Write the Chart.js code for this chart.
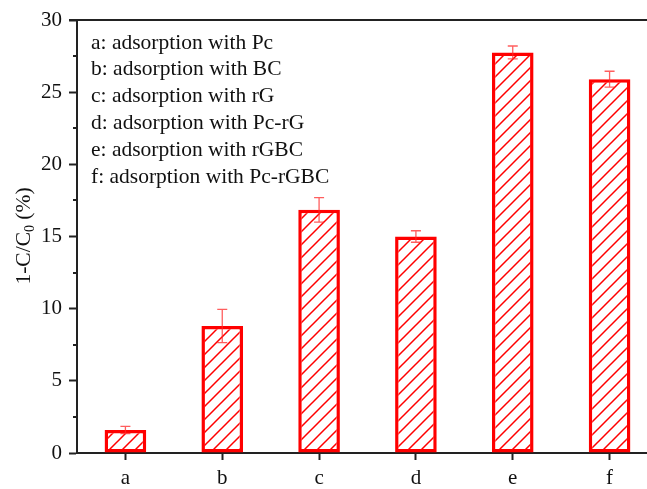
<!DOCTYPE html>
<html>
<head>
<meta charset="utf-8">
<script src="https://cdn.jsdelivr.net/npm/chart.js@4.4.0/dist/chart.umd.min.js"></script>
<style>
  body { margin: 0; background: #fff; }
  #wrap { width: 647px; height: 489px; overflow: hidden; position: relative; }
  canvas { position: absolute; left: 0; top: 0; }
</style>
</head>
<body>
<div id="wrap"><canvas id="chart" width="680" height="489"></canvas></div>
<script>
const categories = ['a', 'b', 'c', 'd', 'e', 'f'];
const removal = [1.6, 8.8, 16.85, 15.0, 27.75, 25.9];
const removalErr = [0.25, 1.15, 0.85, 0.4, 0.45, 0.55];
const yTicks = [0, 5, 10, 15, 20, 25, 30];
const legendLines = [
  'a: adsorption with Pc',
  'b: adsorption with BC',
  'c: adsorption with rG',
  'd: adsorption with Pc-rG',
  'e: adsorption with rGBC',
  'f: adsorption with Pc-rGBC'
];

const FONT = "'Liberation Serif', 'Times New Roman', serif";

// diagonal hatch fill for the bars
function makeHatch() {
  const size = 13;
  const c = document.createElement('canvas');
  c.width = size;
  c.height = size;
  const g = c.getContext('2d');
  g.fillStyle = '#fff';
  g.fillRect(0, 0, size, size);
  g.strokeStyle = '#ff0000';
  g.lineWidth = 1.5;
  g.beginPath();
  g.moveTo(-2, size + 2); g.lineTo(size + 2, -2);
  g.moveTo(-2, 2); g.lineTo(2, -2);
  g.moveTo(size - 2, size + 2); g.lineTo(size + 2, size - 2);
  g.stroke();
  return g.createPattern(c, 'repeat');
}

const extras = {
  id: 'extras',
  afterDatasetsDraw(chart) {
    const ctx = chart.ctx;
    const x = chart.scales.x;
    const y = chart.scales.y;
    const area = chart.chartArea;
    ctx.save();

    // error bars
    ctx.strokeStyle = 'rgba(255,40,40,0.75)';
    ctx.lineWidth = 1.3;
    categories.forEach((c, i) => {
      const px = x.getPixelForValue(i);
      const top = y.getPixelForValue(removal[i] + removalErr[i]);
      const bot = y.getPixelForValue(removal[i] - removalErr[i]);
      ctx.beginPath();
      ctx.moveTo(px, top); ctx.lineTo(px, bot);
      ctx.moveTo(px - 5, top); ctx.lineTo(px + 5, top);
      ctx.moveTo(px - 5, bot); ctx.lineTo(px + 5, bot);
      ctx.stroke();
    });

    // top frame line
    ctx.strokeStyle = '#222';
    ctx.lineWidth = 2;
    ctx.beginPath();
    ctx.moveTo(area.left - 8, area.top);
    ctx.lineTo(chart.width, area.top);
    ctx.stroke();

    // minor ticks on y
    for (let v = 2.5; v < 30; v += 5) {
      const py = Math.round(y.getPixelForValue(v));
      ctx.beginPath();
      ctx.moveTo(area.left - 4, py);
      ctx.lineTo(area.left, py);
      ctx.stroke();
    }

    // legend text
    ctx.fillStyle = '#111';
    ctx.font = '21.5px ' + FONT;
    ctx.textBaseline = 'middle';
    ctx.textAlign = 'left';
    legendLines.forEach((t, i) => {
      ctx.fillText(t, 91, 43 + i * 26.8);
    });

    // y axis title with subscript
    ctx.translate(23, 236);
    ctx.rotate(-Math.PI / 2);
    const big = '21.5px ' + FONT, small = '14px ' + FONT;
    const p1 = '1-C/C', p2 = '0', p3 = ' (%)';
    ctx.font = big;
    const w1 = ctx.measureText(p1).width;
    const w3 = ctx.measureText(p3).width;
    ctx.font = small;
    const w2 = ctx.measureText(p2).width;
    let sx = -(w1 + w2 + w3) / 2;
    ctx.textBaseline = 'alphabetic';
    ctx.font = big;
    ctx.fillText(p1, sx, 7);
    sx += w1;
    ctx.font = small;
    ctx.fillText(p2, sx, 11);
    sx += w2;
    ctx.font = big;
    ctx.fillText(p3, sx, 7);
    ctx.restore();
  }
};

new Chart(document.getElementById('chart'), {
  type: 'bar',
  data: {
    labels: categories,
    datasets: [{
      data: removal,
      backgroundColor: makeHatch(),
      borderColor: '#ff0000',
      borderWidth: 3.5,
      borderSkipped: false,
      barPercentage: 0.43,
      categoryPercentage: 1.0
    }]
  },
  options: {
    responsive: false,
    animation: false,
    layout: { padding: { top: 20, right: 22, left: 0, bottom: 0 } },
    plugins: {
      legend: { display: false },
      tooltip: { enabled: false }
    },
    scales: {
      x: {
        afterFit: (s) => { s.height = 36; },
        grid: {
          offset: false,
          drawOnChartArea: false,
          tickLength: 7,
          tickWidth: 2,
          tickColor: '#222'
        },
        border: { display: true, color: '#222', width: 2 },
        ticks: {
          color: '#111',
          padding: 6,
          font: { family: FONT, size: 21 }
        }
      },
      y: {
        min: 0,
        max: 30,
        afterFit: (s) => { s.width = 77; },
        afterBuildTicks: (s) => { s.ticks = yTicks.map(v => ({ value: v })); },
        grid: {
          drawOnChartArea: false,
          tickLength: 8,
          tickWidth: 2,
          tickColor: '#222'
        },
        border: { display: true, color: '#222', width: 2 },
        ticks: {
          color: '#111',
          padding: 7,
          font: { family: FONT, size: 21 }
        }
      }
    }
  },
  plugins: [extras]
});
</script>
</body>
</html>
